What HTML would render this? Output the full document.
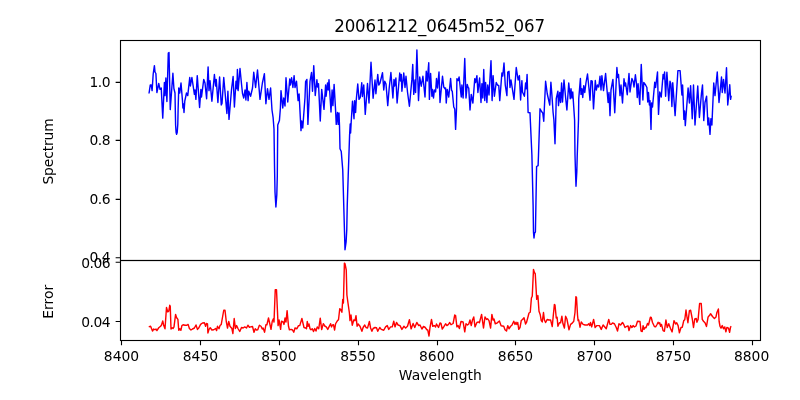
<!DOCTYPE html>
<html lang="en">
<head>
<meta charset="utf-8">
<title>20061212_0645m52_067</title>
<style>
html,body{margin:0;padding:0;background:#fff;}
body{width:800px;height:400px;overflow:hidden;}
svg{display:block;will-change:transform;}
text{font-family:"DejaVu Sans","Liberation Sans",sans-serif;fill:#000;}
.t10{font-size:13.89px;}
.t12{font-size:16.67px;letter-spacing:-0.1px;}
.yl{letter-spacing:-0.5px;}
.fr{fill:none;stroke:#000;stroke-width:1.11;stroke-linejoin:miter;}
.tk{stroke:#000;stroke-width:1.11;fill:none;}
.ln{fill:none;stroke-width:1.42;stroke-linejoin:round;stroke-linecap:butt;}
</style>
</head>
<body>
<svg width="800" height="400" viewBox="0 0 800 400">
<rect x="0" y="0" width="800" height="400" fill="#ffffff"/>
<text class="t12" transform="translate(439.6,31.7) scale(1,1.08)" text-anchor="middle">20061212_0645m52_067</text>
<polyline class="ln" stroke="#0000ff" points="149,93.5 150.25,85 151.2,85 152.1,90.6 153.2,74 154.4,65.6 155,72 155.9,73.5 156.9,92.5 158.75,83.5 160,89.4 161.25,88.1 162.75,118.1 164.4,82.5 165,95.6 165.9,78 166.9,101.5 168.3,53 169,52.5 170.25,109.6 172.9,73.3 173.9,88.5 175,93 175.3,110 175.6,125 176.1,132.5 176.6,134.2 177.2,132.5 177.8,124 178.1,110 178.75,88 179.75,93 181,83 182.5,101 182.9,108 183.4,104 184,112.5 184.8,101 186.5,93 187.75,95.6 189.75,77.5 190.4,86 191.9,77.5 194.4,94.4 195,90 195.9,99.4 197.25,75.6 199.6,107.5 200.9,89.4 201.5,97 203.75,79.4 205,83 206.6,98.75 208.1,66.9 209,90.6 210,80.6 211.9,101.25 214.4,74.5 215.6,86 216.25,79.4 217.9,102.5 219.6,77 221.25,105 222,103.5 223.75,77.5 226.9,113.5 227.9,91.25 229,119.4 231.6,88.75 233.1,76.5 234.4,107 236,81.25 236.9,88.75 237.4,69.4 238.1,90.6 240,68.5 241.5,84 242.5,93.5 243.75,98 245,90 245.9,100 246.9,82.5 248.1,100.6 248.75,91.25 250.6,96.25 252.5,88 253.75,72.25 255.6,87.5 257.5,70 260,99.4 262.4,83 264.4,73.75 265.9,103.75 267.5,88.6 269,99.4 270.6,88 272,110 273.1,117.5 274,129 274.5,165 275,192 275.9,207 276.8,195 277.3,176 277.6,140 277.75,125 279.4,120.6 280.4,108 281,90.6 282.75,108 283.75,98 285,106 286,77.75 287.75,102 289.75,79 290.4,85 291.6,77.75 292.9,87.5 294.1,75.6 295,87.5 296.5,81.25 298.1,100.6 299.1,94 301,130.6 301.7,121 302.75,128 305,97.5 305.6,81.5 306.9,79.4 307.9,124.4 310,81.25 311.5,72.5 312.5,91.25 313.75,65.6 315.25,95.5 316.9,79.75 317.6,87 318.5,83.75 320.25,121 321.7,89.4 324,109.4 325.6,85 326.1,96.25 327.5,83 328.2,90 329,79.75 331,112 332.1,90 332.9,105.6 334.1,84.4 335.6,110.6 336.25,124.4 337.5,112.5 338.2,124.4 339,113 339.5,126 340,148.75 341.25,151.5 342.75,170 345,249.75 346.1,242 346.75,230 347.25,205 348.2,176 348.75,160 349.6,135 350.2,124 350.6,133 351.2,122 352.5,101.25 354,118.75 354.6,100.6 355.6,112.5 356.25,100 357.75,84 359,99.4 360.25,97.5 361.75,82.75 362.4,96.5 363.75,85 365.25,114.4 367.5,83.5 369,103 371,62.25 373.1,98.3 375,80 375.9,93.75 377.75,74.4 378.75,85 380,83 382.5,72.75 383.75,90 384.75,81.25 386,84 387.75,105.6 389.2,88 390.9,72.5 392.9,98 394,79.4 394.7,86 395.9,78 397.1,103 399.75,73 400.6,81 401.25,74.4 401.9,91.25 403.75,73 405,87.5 406,76.25 407.5,92 409.4,106.25 411.9,79.4 412.75,64.4 413.75,94.4 415,80 415.6,92.5 416.9,50 418.5,100.6 419.75,77 421.25,86.25 422.9,76.25 425,97 426.25,71.25 427.25,81 428.75,62.75 429.4,99.4 430.6,73.5 431.9,96.25 432.5,89.4 433.5,98 434.4,90 435.6,92 436.5,78.5 437.5,88 439,72 440,102.5 442.5,76.25 443.75,87 445,88.75 445.6,88 446.25,103 447.25,89.4 448.75,97 450.6,78.5 451.6,90.6 452.25,91 453.75,107 454.75,109 455.6,129.4 456.5,109 456.9,78.75 458.1,80.6 459.1,77 461.25,97 461.9,85 463.1,98 464.75,58.5 466,98 467.25,84.4 468.1,87.5 468.75,88 470,110 471.25,94.4 472.9,103 474.75,78.75 475.6,82.5 476.9,75.6 477.9,92.5 479.6,78 481,102.5 481.9,83.75 482.8,98 483.75,69.4 484.75,100.6 485.6,82.5 486.9,102.5 487.75,85 489,95 491,60.6 492.1,100.6 493.1,75.6 494.4,96.25 496.25,82.5 497.5,85 498.75,85.6 499.75,100.6 501.9,73 502.75,76 504,63 505.25,85 506.9,95.6 507.75,72 509,71.25 510,87.5 511,80 514,99.4 516.25,67.5 518.1,80 519.4,75.6 520.6,100 521.9,80.6 522.5,92 524.4,96.25 525.6,83 526.25,88.75 527.1,74.4 528.1,112.5 530,112.75 530.4,122 531.9,155 533.1,205 533.5,232.5 534,238 534.6,233 535.4,232 535.9,205 536.6,166.5 538.1,165.6 538.5,155 539.6,122 540,108.75 541.9,112 542.75,113 543.75,121.25 545.6,81.25 547.25,93.75 549.75,105 550.9,82.25 551.9,95 553.1,112.5 553.9,120 555,143.75 555.7,120 556.25,98.75 557.9,91.25 558.5,105.6 559.75,92.5 560.6,102.5 561.6,83 562.5,102 564,80 565.6,97.5 566.9,110 568.75,83 570.25,98.75 571,88.75 571.9,98 572.75,92 574.6,120 575,155 575.5,172 576,186.25 576.8,172 577.25,155 578.5,120 578.75,98.75 580.4,78.5 581,94.4 581.9,88.75 582.75,97.5 583.75,85.6 584.75,92.5 586,82.5 587.5,74 589,88.75 590,100.3 591,80.6 592.25,81.25 593.5,108.9 595.3,80.5 596.25,90 597.5,85 598.75,87 600,76.25 601,90 601.9,75.6 603.5,90.6 605.6,73.5 608.1,102.5 609,92.5 610,115.6 611,90 612.9,79.4 614.75,112.75 616.9,67.5 617.75,77.5 618.5,74.4 620,95.6 621,85 622.5,103 624,78.75 625,86 625.6,83 627.25,94.75 629,73.5 630,92 631.9,78.5 633.1,81.25 634,87 635.4,74.75 636.5,83.75 637.25,97.5 638.1,83.75 639.75,104.4 641.25,64.4 642.9,100 643.75,82.5 645.6,85 646.9,87.5 647.75,102 648.5,92.5 649.4,105 650,100.6 651,129.4 651.6,103 652.5,107 654.75,82.25 655.6,87.5 657.5,72 658.5,114.4 659.75,92 661.25,97 663.1,74.4 663.75,78.75 664.6,72 665.6,96.25 666.9,72.25 668.75,100.6 670,81.25 670.9,84 671.9,106.5 672.75,82.75 675.1,115.6 677.9,70.6 680.1,70.6 681.9,95 682.6,85 683.9,119.4 684.6,111 685.3,125.6 688.1,88 689.4,103 690.6,85.6 692.25,118.75 693.5,85 695,125 697.75,86 699.4,117.5 701.5,93 702.5,85 703.75,120.6 705,102.5 706.6,96.25 707.9,125 708.75,118 710,134.4 710.9,118.75 711.9,125 713.75,83 715,95.6 717.25,72 719,102.5 721.5,77 722.25,92.5 723.5,79.4 725,93 726.5,67.75 727.75,105 729.75,84.75 730.6,99.4 731.25,95.6"/>
<polyline class="ln" stroke="#ff0000" points="148.75,326.9 150.6,326.25 152.5,331 153.75,329 155,329.75 156,329 156.9,330.6 158.75,327.75 160.6,326.25 161.5,325 162.75,321 163.75,325.6 165,328.75 166.5,307.5 167.75,311.9 168.75,311.25 169.75,305.25 170.25,306.25 171,329 172.25,327.75 173.1,328.5 174,326.9 175.6,314.4 176.5,317.5 177.9,319.4 178.75,330.25 179.75,328.75 180.9,330.25 181.9,325.6 183.1,324.75 185,325.25 186.9,325.25 188.1,324.4 189.4,328.5 191,330 192.5,329 194.4,328 196,325 197.5,329.4 198.75,328 200.6,324.4 202.5,323 204.4,322.75 205.6,326.25 206.5,323.5 207.5,324 207.9,333 209,329.4 210.25,327.75 211.9,330 213.75,329.75 215.6,328.5 216.6,330.6 217.5,326.25 219,328.75 220,325.6 221.25,324.4 223.75,310.25 225,310.25 226.25,321.25 227.5,328 228.75,321.5 230,326.25 231.9,328.5 232.9,333.5 234.2,318.5 235.4,328.6 236.6,325.6 238.1,328.75 239.75,331.5 241.5,327.5 243.1,328 244.75,326.9 246.5,328 247.9,325.25 249.4,327.25 250.6,326.9 252.5,326.5 254,332.25 255.25,328.75 256.5,330 257.75,329.75 259.4,325.25 261,326.25 262.25,329 263.1,328 264.6,332.25 265.9,324.75 266.9,324.75 268.5,318 270,324.75 271,329.4 272.25,321.25 273.4,318.75 274,322 275.25,289.75 276.5,289.75 278.1,325.6 279.1,320 280.6,329.4 281.5,321.25 283.1,322 284,324.4 285,318 286,322 287.1,310.6 288.5,326.25 289.4,329.75 291.25,329.4 292.5,330 293.75,332.25 295,328 296.9,328.75 298.5,325.6 299.75,325.6 301.9,318.5 303.1,323.75 304,327.5 305.6,328 306.5,328.75 307.25,321.5 308.1,326.25 309,324 310,328.75 311,329.75 312.25,328.75 313.5,331.5 314.75,328.5 316,331 317.25,326.9 318.75,328.75 320.25,318.2 321.7,329.6 323.3,323.6 325,326.25 326.25,326.9 327.75,329.4 329,326.9 330.6,323.75 331.5,326.9 332.5,325 333.5,324.75 334.6,330 335.6,323.75 337.5,320.6 338.5,319.75 339.75,308.75 340.6,309.4 341.9,312.25 342.75,299.4 343.4,303 344.4,263.1 345,263.75 346.25,270 346.9,295 348.1,303.75 349.4,313 350,320.6 351,315 352.25,325.25 353.75,320 355,320.6 356,315.6 357.1,326.25 358.1,324 360,326.25 361.9,331.25 363.1,327.5 364.75,325 366,327.5 367.5,328.1 369.4,321.5 370.6,328 371.9,331.25 373.1,328.5 375,327.5 376.5,327.75 377.75,331.25 379.75,327.5 381.25,329.4 383.75,330.25 385.6,326.9 387.25,325.6 388.75,329.4 390.6,326.9 392.25,326.9 393.75,321.25 395,326.9 396.5,322.5 398.1,325 400,325.6 401.9,329.4 404,326.25 405.6,328.1 407.5,326.25 409.4,319.75 411.1,328.9 413.1,323.5 414.75,327.5 416.8,322.5 418.75,325.6 420,325 421.9,329 423.5,326.5 425,327.25 426.9,329.75 427.75,330 429,336 430,327.5 431.5,319.4 432.75,326.25 434.4,325.6 435.6,326.9 436.5,324 438.5,327.5 440,323 441,323.5 442.25,329 443.75,326.9 445.6,323.75 446.9,325.6 448.5,324.4 449.75,322.5 451,324.75 453.1,323.5 454.75,315 455.6,315.6 456.9,326.9 458.1,325.6 459.4,328.5 461,321.5 463.1,321.9 464.75,331.9 466,323.75 467.5,325 468.75,324 470,320 471.25,325.6 472.5,320 473.75,316.9 475,326.9 476.9,322.5 478.5,321.9 479.4,322.75 481.6,314.4 483.5,328 485,316.9 486.5,319.4 487.5,318.75 489,320.6 490.6,328 491.9,314.4 493.1,320 494,319 495.25,323.75 496.9,323.1 499.4,321 501.1,325.8 503.75,326.25 505,329.75 506.5,331 507.75,325.6 509,328.75 510.6,326.25 511.9,325.25 513.75,321.25 515,324.4 516,322.25 516.9,324.4 517.75,322.5 518.75,329.4 520,327.5 521.25,320.6 522.5,319.4 524,317.75 525.6,324 526.5,322.5 528.1,316.5 529,313 530.25,312.25 531.4,298 532.25,296.25 533.5,269.4 534.4,272.5 535.25,273.75 536.7,299.4 537.9,295.6 539,311.25 540.25,314.75 541.25,320.6 542.25,321.9 543.5,312.5 544.4,320 545.6,322.5 547.25,319.4 548.75,320 550.6,320 552.25,326.5 553.1,317.5 554.4,304.4 555,305 556.25,318 557.1,317.25 557.9,326.25 559.4,322.75 560.6,322.75 561.9,316.25 562.9,323.5 564.4,328 565.6,316.25 566.9,319 569,329.75 570.6,324.4 572.25,323.1 573.75,321.25 575,312.5 575.9,296.6 576.5,297.5 577.5,315 578.1,320.6 578.75,320 580,327.25 581.25,321.9 583.1,324.4 585,325 587.5,325 588.75,323.75 589.75,325.6 590.5,322.5 591.7,326.9 593.6,319.4 595.1,327.5 596.9,325.6 599.4,325.6 601.25,329.4 603.1,325 605,327.25 606.25,328.75 608.75,319.4 610,324.4 611.25,324.4 612.5,323 614.4,323.75 616.25,327.5 617.5,331 619,323.75 620.6,325 622.5,322.5 623.75,324.4 625,327.5 626.9,326.25 628.1,326 629,330.6 630.6,325.6 631.9,327.5 633.1,325.6 634.4,326.9 636,326 637.5,321.25 640,321.5 641,331 642.25,331.5 643.1,325.6 644,329.4 645,327.5 646,327.75 647.5,323.5 648.5,325 650.4,317.25 651.25,317.5 652.5,322.5 654.4,326.5 655.6,326.9 656.9,324.75 658.1,322.25 659,323.75 659.75,322.75 660.6,326.25 661.5,324.4 663.1,330.6 664.4,331.25 665.9,320 667.25,327.5 668.75,323.75 670.6,328.75 672.1,331.9 674,320.6 675.6,324 676.7,322.75 678.1,325.6 679.4,332.75 681,327.5 682.25,327.25 683.75,320.6 684.75,319.75 686,310 686.9,316.5 687.9,322.75 689.4,310.6 690.6,310.25 692.25,318.75 693.5,327.5 694.75,319 696.25,318.5 696.9,322.25 698.1,319.4 699.6,303.5 701.25,303.5 702.25,319.4 703.5,321.25 705,322.75 706.5,326.5 708.1,316.9 709.4,315.6 710.6,313.75 712.5,316.5 714.4,318.5 716,316.9 716.9,312.5 718.4,309 719.1,321.25 720,326.25 721,328.1 722.25,325.6 723.5,328.75 724.75,326.9 725.9,331.9 726.9,327.5 728.5,328.1 729.6,332.25 730.6,326.9 731.25,326.25"/>
<rect class="fr" x="120.5" y="40.5" width="640.0" height="220.0"/>
<rect class="fr" x="120.5" y="260.5" width="640.0" height="80.0"/>
<path class="tk" d="M121.5,340.5v4.86 M200.5,340.5v4.86 M279.5,340.5v4.86 M358.5,340.5v4.86 M437.5,340.5v4.86 M515.5,340.5v4.86 M594.5,340.5v4.86 M673.5,340.5v4.86 M752.5,340.5v4.86"/>
<text class="t10" x="121.5" y="360.6" text-anchor="middle">8400</text>
<text class="t10" x="200.4" y="360.6" text-anchor="middle">8450</text>
<text class="t10" x="279" y="360.6" text-anchor="middle">8500</text>
<text class="t10" x="357.9" y="360.6" text-anchor="middle">8550</text>
<text class="t10" x="436.7" y="360.6" text-anchor="middle">8600</text>
<text class="t10" x="515.5" y="360.6" text-anchor="middle">8650</text>
<text class="t10" x="594.4" y="360.6" text-anchor="middle">8700</text>
<text class="t10" x="673.4" y="360.6" text-anchor="middle">8750</text>
<text class="t10" x="751.6" y="360.6" text-anchor="middle">8800</text>
<path class="tk" d="M120.5,82.4h-4.86 M120.5,140.4h-4.86 M120.5,199.4h-4.86 M120.5,257.7h-4.86 M120.5,262.3h-4.86 M120.5,321.5h-4.86"/>
<text class="t10 yl" x="110.1" y="87" text-anchor="end">1.0</text>
<text class="t10 yl" x="110.1" y="145" text-anchor="end">0.8</text>
<text class="t10 yl" x="110.1" y="204" text-anchor="end">0.6</text>
<text class="t10 yl" x="110.1" y="262.3" text-anchor="end">0.4</text>
<text class="t10 yl" x="110.1" y="267.5" text-anchor="end">0.06</text>
<text class="t10 yl" x="110.1" y="326.7" text-anchor="end">0.04</text>
<text class="t10" x="440.4" y="379.6" text-anchor="middle" style="letter-spacing:0.09px">Wavelength</text>
<text class="t10" transform="translate(52.6,151.5) rotate(-90)" text-anchor="middle" style="letter-spacing:-0.14px">Spectrum</text>
<text class="t10" transform="translate(53.2,301.8) rotate(-90)" text-anchor="middle">Error</text>
</svg>
</body>
</html>
